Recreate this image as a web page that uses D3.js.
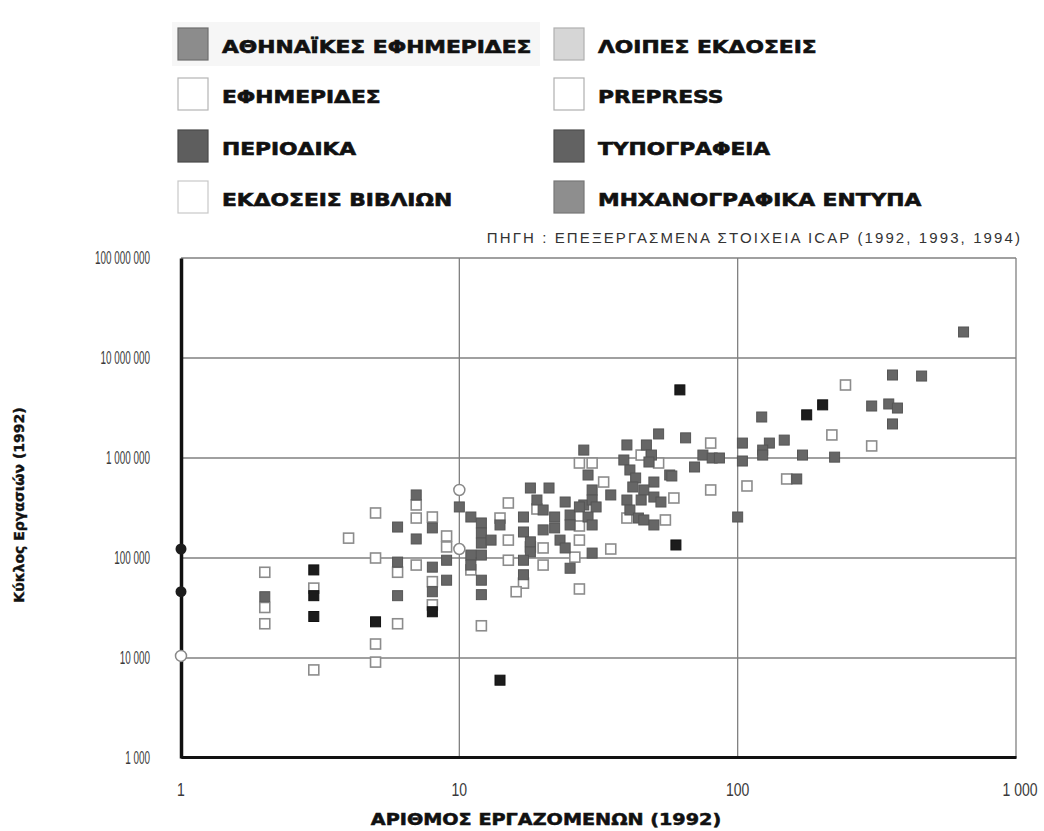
<!DOCTYPE html>
<html><head><meta charset="utf-8">
<script src="https://cdn.jsdelivr.net/npm/d3@7"></script>
<style>body{margin:0;background:#fff}svg{display:block}</style>
</head><body><div id="chart"></div>
<script>
// ---- data (employees, turnover) ----
const xTicks = [1, 10, 100, 1000];
const xTickLabels = ["1", "10", "100", "1 000"];
const yTicks = [1000, 10000, 100000, 1000000, 10000000, 100000000];
const yTickLabels = ["1 000", "10 000", "100 000", "1 000 000", "10 000 000", "100 000 000"];

const legendLeft = ["ΑΘΗΝΑΪΚΕΣ ΕΦΗΜΕΡΙΔΕΣ", "ΕΦΗΜΕΡΙΔΕΣ", "ΠΕΡΙΟΔΙΚΑ", "ΕΚΔΟΣΕΙΣ ΒΙΒΛΙΩΝ"];
const legendRight = ["ΛΟΙΠΕΣ ΕΚΔΟΣΕΙΣ", "PREPRESS", "ΤΥΠΟΓΡΑΦΕΙΑ", "ΜΗΧΑΝΟΓΡΑΦΙΚΑ ΕΝΤΥΠΑ"];

// ΑΘΗΝΑΪΚΕΣ ΕΦΗΜΕΡΙΔΕΣ (filled circles)
const athensPapers = [[1, 123000], [1, 46000]];
// ΕΦΗΜΕΡΙΔΕΣ (open circles)
const papers = [[1, 10500], [10, 479000], [10, 123000]];
// ΠΕΡΙΟΔΙΚΑ (black squares)
const periodicals = [[3, 76000], [3, 42000], [3, 26000], [5, 23000], [8, 29000], [14, 6000],
  [60, 135000], [62, 4800000], [177, 2700000], [202, 3400000]];
// ΕΚΔΟΣΕΙΣ ΒΙΒΛΙΩΝ (open squares)
const books = [[2, 72000], [2, 32000], [2, 22000], [3, 50000], [3, 7600], [4, 158000], [5, 282000],
  [5, 100000], [5, 13800], [5, 9100], [6, 72000], [6, 22000], [7, 339000], [7, 251000], [7, 85000],
  [8, 257000], [8, 58000], [8, 34000], [9, 166000], [9, 129000], [11, 76000], [12, 21000],
  [14, 251000], [15, 355000], [15, 151000], [18, 129000], [15, 95000], [17, 56000], [16, 46000],
  [19, 309000], [20, 126000], [20, 85000], [27, 209000], [27, 151000], [26, 102000], [27, 49000],
  [27, 891000], [30, 891000], [33, 575000], [35, 123000], [45, 1070000], [52, 891000],
  [80, 1410000], [59, 398000], [40, 251000], [55, 240000], [80, 479000], [108, 525000],
  [150, 617000], [218, 1700000], [244, 5370000], [303, 1320000]];
// ΤΥΠΟΓΡΑΦΕΙΑ (grey squares)
const printers = [[2, 41000], [6, 204000], [6, 91000], [6, 42000], [7, 427000], [7, 155000],
  [8, 200000], [8, 81000], [8, 46000], [9, 95000], [9, 60000], [10, 324000], [11, 257000],
  [12, 224000], [12, 178000], [12, 141000], [12, 107000], [13, 151000], [11, 107000], [11, 85000],
  [12, 60000], [12, 43000], [14, 214000], [18, 501000], [21, 501000], [17, 257000], [17, 182000],
  [18, 145000], [18, 115000], [17, 95000], [17, 68000], [19, 380000], [20, 302000], [20, 191000],
  [22, 257000], [22, 200000], [23, 151000], [24, 363000], [25, 269000], [25, 214000], [24, 126000],
  [25, 79000], [28, 339000], [28, 1200000], [29, 676000], [30, 479000], [30, 380000], [31, 324000],
  [35, 427000], [27, 324000], [29, 257000], [30, 214000], [30, 112000], [40, 1350000],
  [39, 955000], [41, 759000], [43, 631000], [42, 513000], [47, 1350000], [49, 1070000],
  [48, 912000], [52, 1740000], [65, 1590000], [57, 676000], [50, 575000], [46, 479000],
  [45, 380000], [50, 407000], [53, 363000], [40, 380000], [41, 302000], [44, 251000],
  [46, 240000], [50, 214000], [75, 1070000], [81, 1000000], [86, 1000000], [70, 813000],
  [58, 661000], [104, 1410000], [104, 933000], [122, 2570000], [130, 1410000], [123, 1200000],
  [123, 1070000], [147, 1510000], [163, 617000], [171, 1070000], [223, 1020000], [100, 257000],
  [303, 3310000], [349, 3470000], [375, 3160000], [360, 2190000], [360, 6760000], [458, 6600000],
  [648, 18200000]];

const W = 1044, H = 831;
const svg = d3.select("#chart").append("svg").attr("width", W).attr("height", H);

const x = d3.scaleLog().domain([1, 1000]).range([181, 1016]);
const y = d3.scaleLog().domain([1000, 100000000]).range([758, 258]);

// legend
const legendColors = {
  "ΑΘΗΝΑΪΚΕΣ ΕΦΗΜΕΡΙΔΕΣ": ["#8c8c8c", "#6e6e6e"],
  "ΕΦΗΜΕΡΙΔΕΣ": ["#ffffff", "#b5b5b5"],
  "ΠΕΡΙΟΔΙΚΑ": ["#5e5e5e", "#4a4a4a"],
  "ΕΚΔΟΣΕΙΣ ΒΙΒΛΙΩΝ": ["#ffffff", "#c8c8c8"],
  "ΛΟΙΠΕΣ ΕΚΔΟΣΕΙΣ": ["#d6d6d6", "#b0b0b0"],
  "PREPRESS": ["#ffffff", "#b0b0b0"],
  "ΤΥΠΟΓΡΑΦΕΙΑ": ["#626262", "#4e4e4e"],
  "ΜΗΧΑΝΟΓΡΑΦΙΚΑ ΕΝΤΥΠΑ": ["#8e8e8e", "#777"]
};
const rowY = [44, 94, 146, 197];
svg.append("rect").attr("x", 172).attr("y", 22).attr("width", 368).attr("height", 44).attr("fill", "#f6f6f6");
function legendCol(items, sx, tx) {
  const g = svg.append("g");
  items.forEach((name, i) => {
    const c = legendColors[name];
    g.append("rect").attr("x", sx).attr("y", rowY[i] - 16).attr("width", 30).attr("height", 32)
      .attr("fill", c[0]).attr("stroke", c[1]).attr("stroke-width", 1.2);
    g.append("text").attr("transform", `translate(${tx},${rowY[i] + 9}) scale(1.28,1)`)
      .attr("font-family", "DejaVu Sans").attr("font-weight", "bold").attr("font-size", 17)
      .attr("fill", "#111").attr("stroke", "#111").attr("stroke-width", 0.6).text(name);
  });
}
legendCol(legendLeft, 178, 222);
legendCol(legendRight, 554, 598);

// source
svg.append("text").attr("x", 1022).attr("y", 243).attr("text-anchor", "end")
  .attr("font-family", "Liberation Sans, Arial, sans-serif").attr("font-size", 15).attr("fill", "#333")
  .attr("letter-spacing", 2.1)
  .text("ΠΗΓΗ : ΕΠΕΞΕΡΓΑΣΜΕΝΑ ΣΤΟΙΧΕΙΑ ICAP (1992, 1993, 1994)");

// grid
const grid = svg.append("g").attr("stroke", "#808080").attr("stroke-width", 1.3);
grid.selectAll("line.h").data(yTicks).join("line")
  .attr("x1", x(1)).attr("x2", x(1000)).attr("y1", d => y(d)).attr("y2", d => y(d));
grid.selectAll("line.v").data(xTicks.slice(1)).join("line").attr("class", "v")
  .attr("y1", y(1e8)).attr("y2", y(1000)).attr("x1", d => x(d)).attr("x2", d => x(d));

// axes
const yAxis = d3.axisLeft(y).tickValues(yTicks).tickFormat("").tickSize(0);
const gy = svg.append("g").attr("transform", `translate(${x(1)},0)`).call(yAxis);
gy.select(".domain").attr("stroke", "#111").attr("stroke-width", 3.5);
const xAxis = d3.axisBottom(x).tickValues(xTicks).tickFormat("").tickSize(0);
const gx = svg.append("g").attr("transform", `translate(0,${y(1000) - 1})`).call(xAxis);
gx.select(".domain").attr("stroke", "#111").attr("stroke-width", 3);

const tickFont = "Liberation Sans, Arial, sans-serif";
svg.append("g").selectAll("text").data(yTicks).join("text")
  .attr("transform", d => `translate(150,${y(d) + 6}) scale(0.55,1)`)
  .attr("text-anchor", "end").attr("font-family", tickFont).attr("font-size", 18).attr("fill", "#3a3a3a")
  .text((d, i) => yTickLabels[i]);
svg.append("g").selectAll("text").data(xTicks).join("text")
  .attr("transform", d => `translate(${x(d) + (d === 1000 ? 4 : 0)},796) scale(0.8,1)`)
  .attr("text-anchor", "middle").attr("font-family", tickFont).attr("font-size", 17.5).attr("fill", "#3a3a3a")
  .text((d, i) => xTickLabels[i]);

// titles
svg.append("text").attr("transform", "translate(546,825) scale(1.28,1)").attr("text-anchor", "middle")
  .attr("font-family", "DejaVu Sans").attr("font-weight", "bold").attr("font-size", 15).attr("fill", "#111")
  .attr("stroke", "#111").attr("stroke-width", 0.5)
  .text("ΑΡΙΘΜΟΣ ΕΡΓΑΖΟΜΕΝΩΝ (1992)");
svg.append("text").attr("transform", "translate(24,505) rotate(-90)").attr("text-anchor", "middle")
  .attr("font-family", "DejaVu Sans").attr("font-weight", "bold").attr("font-size", 14).attr("fill", "#111")
  .attr("stroke", "#111").attr("stroke-width", 0.4)
  .text("Κύκλος Εργασιών (1992)");

// points
const S = 10;
function squares(data, fill, stroke, sw) {
  svg.append("g").selectAll("rect").data(data).join("rect")
    .attr("x", d => x(d[0]) - S / 2).attr("y", d => y(d[1]) - S / 2)
    .attr("width", S).attr("height", S)
    .attr("fill", fill).attr("stroke", stroke).attr("stroke-width", sw);
}
squares(books, "#ffffff", "#8c8c8c", 1.6);
squares(printers, "#666666", "#555555", 1);
squares(periodicals, "#1c1c1c", "#111", 1);
svg.append("g").selectAll("circle").data(papers).join("circle")
  .attr("cx", d => x(d[0])).attr("cy", d => y(d[1])).attr("r", 5.5)
  .attr("fill", "#fff").attr("stroke", "#888").attr("stroke-width", 1.5);
svg.append("g").selectAll("circle").data(athensPapers).join("circle")
  .attr("cx", d => x(d[0])).attr("cy", d => y(d[1])).attr("r", 5.5)
  .attr("fill", "#1c1c1c");
</script></body></html>
